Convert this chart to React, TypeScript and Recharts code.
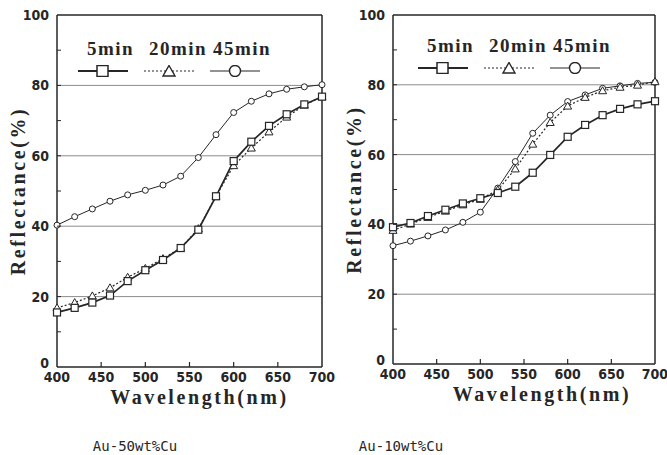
import { LineChart, Line, XAxis, YAxis, ReferenceLine, Legend } from 'recharts';

// wavelength sampling, nm
const wavelengths = [400, 420, 440, 460, 480, 500, 520, 540, 560, 580, 600, 620, 640, 660, 680, 700];

// Au-50wt%Cu reflectance (%)
const cu50Min5 = [15.5, 16.8, 18.3, 20.3, 24.4, 27.5, 30.4, 33.8, 39.0, 48.5, 58.5, 64.0, 68.5, 71.8, 74.6, 76.8];
const cu50Min20 = [16.8, 18.3, 20.2, 22.5, 25.5, 28.0, 30.8, 33.8, 39.3, 48.5, 57.2, 62.2, 66.8, 71.0, 74.4, 76.8];
const cu50Min45 = [40.3, 42.7, 44.9, 47.1, 48.9, 50.2, 51.7, 54.2, 59.5, 66.0, 72.3, 75.5, 77.6, 78.9, 79.6, 80.2];

// Au-10wt%Cu reflectance (%)
const cu10Min5 = [39.2, 40.4, 42.4, 44.2, 46.0, 47.5, 49.0, 50.8, 54.8, 59.9, 65.1, 68.5, 71.3, 73.1, 74.4, 75.3];
const cu10Min20 = [38.3, 40.1, 42.0, 43.8, 45.6, 47.2, 49.9, 55.9, 63.0, 69.2, 73.9, 76.4, 78.3, 79.3, 79.9, 80.9];
const cu10Min45 = [33.9, 35.2, 36.7, 38.4, 40.6, 43.5, 50.4, 58.0, 66.1, 71.3, 75.2, 77.1, 79.0, 79.7, 80.4, 80.7];

const xTicks = [400, 450, 500, 550, 600, 650, 700];
const yTicks = [0, 10, 20, 30, 40, 50, 60, 70, 80, 90, 100];
const gridValues = [20, 40, 60, 80];
const seriesLabels = ['5min', '20min', '45min'];

const INK = '#262626';
const TICK_FONT = "'Liberation Sans Narrow', 'DejaVu Sans Condensed', 'Liberation Sans', sans-serif";
const TITLE_FONT = "'Liberation Serif', 'DejaVu Serif', serif";
const TICK_GAP = 8;

const buildRows = (a: number[], b: number[], c: number[]) =>
  wavelengths.map((wl, i) => ({ wl, m5: a[i], m20: b[i], m45: c[i] }));

const SquareDot = (p: any) => (
  <rect key={`s${p.index}`} x={p.cx - 3.5} y={p.cy - 3.5} width={7} height={7} fill="#fff" stroke={INK} strokeWidth={1.2} />
);
const TriangleDot = (p: any) => (
  <path
    key={`t${p.index}`}
    d={`M${p.cx},${p.cy - 4} L${p.cx + 4},${p.cy + 3} L${p.cx - 4},${p.cy + 3} Z`}
    fill="#fff"
    stroke={INK}
    strokeWidth={1}
  />
);
const CircleDot = (p: any) => (
  <circle key={`c${p.index}`} cx={p.cx} cy={p.cy} r={3} fill="#fff" stroke={INK} strokeWidth={1} />
);

// left axis: inward tick every 10, label every 20
const YTick = (p: any) => {
  const v = p.payload.value;
  const axisX = p.x + TICK_GAP;
  return (
    <g>
      {v > 0 && v < 100 && <line x1={axisX} x2={axisX + 4} y1={p.y} y2={p.y} stroke={INK} strokeWidth={1} />}
      {v % 20 === 0 && (
        <text x={p.x} y={v === 0 ? p.y - 4 : p.y} dy="0.36em" textAnchor="end" fontFamily={TICK_FONT} fontWeight="bold" fontSize={14} fill={INK}>
          {v}
        </text>
      )}
    </g>
  );
};

// bottom axis: inward ticks between the ends
const XTick = (p: any) => {
  const v = p.payload.value;
  const axisY = p.y - 5;
  return (
    <g>
      {v > 400 && v < 700 && <line x1={p.x} x2={p.x} y1={axisY} y2={axisY - 5} stroke={INK} strokeWidth={1.2} />}
      <text x={p.x} y={p.y} dy="0.71em" textAnchor="middle" fontFamily={TICK_FONT} fontWeight="bold" fontSize={14} fill={INK}>
        {v}
      </text>
    </g>
  );
};

const LegendSample = ({ kind }: { kind: number }) => (
  <svg width={52} height={12} style={{ display: 'block' }}>
    <line
      x1={1}
      x2={51}
      y1={6}
      y2={6}
      stroke={INK}
      strokeWidth={kind === 0 ? 1.8 : 1.2}
      strokeDasharray={kind === 1 ? '2 2' : undefined}
    />
    {kind === 0 && <rect x={20} y={0.5} width={11} height={11} fill="#fff" stroke={INK} strokeWidth={1.5} />}
    {kind === 1 && <path d="M26,0.5 L32,11 L20,11 Z" fill="#fff" stroke={INK} strokeWidth={1.4} />}
    {kind === 2 && <circle cx={26} cy={6} r={5.5} fill="#fff" stroke={INK} strokeWidth={1.4} />}
  </svg>
);

const renderLegend = () => (
  <div style={{ display: 'flex' }}>
    {seriesLabels.map((label, i) => (
      <div key={label} style={{ width: 66 }}>
        <div
          style={{
            fontFamily: TITLE_FONT,
            fontWeight: 'bold',
            fontSize: 19,
            lineHeight: '22px',
            letterSpacing: 1.5,
            color: INK,
            paddingLeft: [10, 6, 4][i],
            whiteSpace: 'nowrap',
          }}
        >
          {label}
        </div>
        <div style={{ marginTop: 5 }}>
          <LegendSample kind={i} />
        </div>
      </div>
    ))}
  </div>
);

interface PanelProps {
  rows: { wl: number; m5: number; m20: number; m45: number }[];
  left: number;
  width: number;
  bottom: number;
  rightMargin: number;
  legendLeft: number;
  legendTop: number;
  titleDx: number;
  caption: string;
  captionX: number;
}

const titleStyle = {
  fontFamily: TITLE_FONT,
  fontWeight: 'bold',
  fontSize: 20,
  letterSpacing: 2.6,
  fill: INK,
};

function Panel({ rows, left, width, bottom, rightMargin, legendLeft, legendTop, titleDx, caption, captionX }: PanelProps) {
  return (
    <>
      <div style={{ position: 'absolute', left, top: 0 }}>
        <LineChart width={width} height={420} data={rows} margin={{ top: 15, right: rightMargin, bottom, left: 0 }}>
          {gridValues.map((g) => (
            <ReferenceLine key={g} y={g} stroke="#8c8c8c" strokeWidth={1} />
          ))}
          <ReferenceLine y={100} stroke={INK} strokeWidth={1.5} />
          <ReferenceLine x={700} stroke={INK} strokeWidth={1.5} />
          <XAxis
            dataKey="wl"
            type="number"
            domain={[400, 700]}
            ticks={xTicks}
            interval={0}
            height={50}
            tickSize={0}
            tickMargin={5}
            tick={<XTick />}
            axisLine={{ stroke: INK, strokeWidth: 1.5 }}
            label={{
              value: 'Wavelength(nm)',
              position: 'insideBottom',
              offset: 13,
              dx: titleDx,
              style: titleStyle,
            }}
          />
          <YAxis
            type="number"
            domain={[0, 100]}
            ticks={yTicks}
            interval={0}
            width={57}
            tickSize={0}
            tickMargin={TICK_GAP}
            tick={<YTick />}
            axisLine={{ stroke: INK, strokeWidth: 1.5 }}
            label={{
              value: 'Reflectance(%)',
              angle: -90,
              position: 'insideLeft',
              offset: 18,
              style: { ...titleStyle, textAnchor: 'middle' },
            }}
          />
          <Legend
            layout="horizontal"
            verticalAlign="middle"
            align="center"
            content={renderLegend}
            wrapperStyle={{ left: legendLeft, top: legendTop, width: 210 }}
          />
          <Line dataKey="m45" stroke={INK} strokeWidth={1} dot={CircleDot} isAnimationActive={false} />
          <Line dataKey="m20" stroke={INK} strokeWidth={1.2} strokeDasharray="2 2" dot={TriangleDot} isAnimationActive={false} />
          <Line dataKey="m5" stroke={INK} strokeWidth={1.7} dot={SquareDot} isAnimationActive={false} />
        </LineChart>
      </div>
      <div
        style={{
          position: 'absolute',
          left: captionX - 60,
          width: 120,
          top: 438,
          textAlign: 'center',
          fontFamily: "'DejaVu Sans Mono', monospace",
          fontSize: 14,
          lineHeight: '17px',
          color: INK,
        }}
      >
        {caption}
      </div>
    </>
  );
}

export default function App() {
  return (
    <div style={{ position: 'absolute', left: 0, top: 0, width: 667, height: 455, background: '#fff', overflow: 'hidden' }}>
      <Panel
        rows={buildRows(cu50Min5, cu50Min20, cu50Min45)}
        left={0}
        width={340}
        bottom={3}
        rightMargin={18}
        legendLeft={77}
        legendTop={38}
        titleDx={10}
        caption="Au-50wt%Cu"
        captionX={135}
      />
      <Panel
        rows={buildRows(cu10Min5, cu10Min20, cu10Min45)}
        left={336}
        width={331}
        bottom={6}
        rightMargin={12}
        legendLeft={81}
        legendTop={35}
        titleDx={18}
        caption="Au-10wt%Cu"
        captionX={401}
      />
    </div>
  );
}
